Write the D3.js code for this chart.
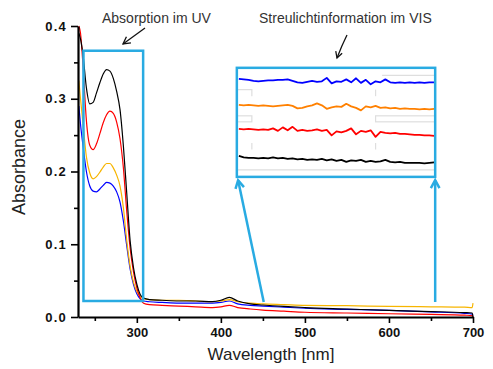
<!DOCTYPE html>
<html><head><meta charset="utf-8">
<script src="https://cdn.jsdelivr.net/npm/d3@7/dist/d3.min.js"></script>
<style>
html,body{margin:0;padding:0;background:#fff;}
svg{display:block;font-family:"Liberation Sans",Arial,sans-serif;}
</style></head>
<body><svg id="c" width="493" height="369"></svg>
<script>
// ---- data ----
const wavelengths = [231,233,236,240,244,248,252,256,260,264,268,272,276,280,284,288,292,296,300,304,308,315,330,350,370,390,400,410,420,435,450,475,500,550,600,650,690,699,700];
const blackSeries = [0.39,0.382,0.36,0.315,0.293,0.295,0.308,0.322,0.334,0.34,0.338,0.328,0.31,0.285,0.235,0.17,0.105,0.068,0.045,0.031,0.026,0.024,0.023,0.022,0.022,0.021,0.023,0.027,0.022,0.018,0.0165,0.0145,0.013,0.011,0.009,0.0075,0.006,0.0055,0.0];
const redSeries = [0.40,0.39,0.345,0.27,0.236,0.23,0.238,0.252,0.267,0.278,0.283,0.28,0.268,0.245,0.205,0.145,0.095,0.062,0.04,0.026,0.019,0.017,0.016,0.015,0.014,0.013,0.014,0.016,0.013,0.011,0.0095,0.008,0.0065,0.0055,0.0045,0.0035,0.0025,0.002,0.0];
const orangeSeries = [0.325,0.3,0.265,0.22,0.198,0.19,0.193,0.199,0.206,0.211,0.211,0.205,0.195,0.18,0.15,0.105,0.07,0.048,0.035,0.028,0.025,0.024,0.023,0.023,0.022,0.021,0.022,0.024,0.021,0.019,0.018,0.017,0.016,0.0155,0.0145,0.014,0.0135,0.013,0.019];
const blueSeries = [0.29,0.265,0.235,0.2,0.18,0.173,0.172,0.176,0.181,0.185,0.184,0.18,0.172,0.158,0.132,0.098,0.066,0.045,0.032,0.025,0.022,0.021,0.02,0.019,0.019,0.019,0.02,0.022,0.018,0.016,0.015,0.0135,0.012,0.0105,0.009,0.007,0.005,0.004,0.002];

const xTicks = [300,400,500,600,700];
const xMinorTicks = [250,350,450,550,650];
const yTicks = [0.0,0.1,0.2,0.3,0.4];
const yMinorTicks = [0.05,0.15,0.25,0.35];

// inset (magnified VIS region, offset traces, arbitrary units)
const insetWavelengths = d3.range(400, 700.1, 7.5);
const insetBlue = [8.99,8.94,8.90,8.81,8.76,8.81,8.85,8.85,8.90,8.90,8.94,8.81,8.67,8.62,8.72,8.81,8.72,8.76,9.08,8.58,8.76,8.72,8.94,8.67,9.04,8.62,8.90,8.49,8.76,8.67,8.94,8.67,8.62,8.67,8.62,8.67,8.62,8.67,8.62,8.67,8.67];
const insetOrange = [6.61,6.56,6.61,6.56,6.51,6.56,6.51,6.47,6.51,6.56,6.61,6.51,6.28,6.33,6.47,6.56,6.74,6.56,6.24,6.38,6.47,6.42,6.70,6.47,6.33,6.10,6.47,6.38,6.51,6.33,6.38,6.28,6.33,6.24,6.28,6.24,6.24,6.19,6.24,6.19,6.24];
const insetRed = [4.40,4.36,4.40,4.36,4.31,4.36,4.31,4.45,4.22,4.54,4.27,4.59,4.22,4.31,4.22,4.27,4.36,4.22,4.31,3.81,4.17,4.08,4.22,4.45,3.90,4.22,4.13,4.27,3.67,4.13,4.04,3.99,4.04,3.94,3.94,3.90,3.85,3.85,3.81,3.81,3.76];
const insetBlack = [1.93,1.79,1.74,1.74,1.70,1.74,1.70,1.79,1.70,1.74,1.65,1.70,1.61,1.65,1.56,1.61,1.56,1.65,1.51,1.61,1.47,1.56,1.38,1.51,1.47,1.56,1.38,1.47,1.38,1.42,1.56,1.38,1.33,1.38,1.28,1.28,1.28,1.28,1.24,1.28,1.33];

// ---- chart ----
const svg = d3.select("#c");
const x = d3.scaleLinear().domain([230, 700]).range([78, 473]);
const y = d3.scaleLinear().domain([0, 0.4]).range([317, 26]);
const cyan = "#29abe2";

svg.append("defs").append("clipPath").attr("id","plot")
  .append("rect").attr("x",x(230)).attr("y",y(0.41)).attr("width",x(700)-x(230)+2).attr("height",y(0)-y(0.41));

const series = [
  {name:"blue", values: blueSeries, color:"#0000ff"},
  {name:"orange", values: orangeSeries, color:"#f7b500"},
  {name:"red", values: redSeries, color:"#ff0000"},
  {name:"black", values: blackSeries, color:"#000000"}
];
const line = d3.line().x(d=>x(d[0])).y(d=>y(d[1])).curve(d3.curveMonotoneX);
const g = svg.append("g").attr("clip-path","url(#plot)");
series.forEach(s=>{
  g.append("path").datum(wavelengths.map((w,i)=>[w,s.values[i]]))
    .attr("d", line).attr("fill","none").attr("stroke", s.color).attr("stroke-width",1.2);
});

// axes
const xAxis = svg.append("g").attr("transform",`translate(0,${y(0)})`)
  .call(d3.axisBottom(x).tickValues(xTicks).tickFormat(d3.format("d")).tickSize(6).tickSizeOuter(0).tickPadding(5));
svg.append("g").attr("transform",`translate(0,${y(0)})`)
  .call(d3.axisBottom(x).tickValues(xMinorTicks).tickFormat("").tickSize(4).tickSizeOuter(0))
  .select(".domain").remove();
const yAxis = svg.append("g").attr("transform",`translate(${x(230)},0)`)
  .call(d3.axisLeft(y).tickValues(yTicks).tickFormat(d3.format(".1f")).tickSize(7).tickSizeOuter(0).tickPadding(4));
svg.append("g").attr("transform",`translate(${x(230)},0)`)
  .call(d3.axisLeft(y).tickValues(yMinorTicks).tickFormat("").tickSize(4).tickSizeOuter(0))
  .select(".domain").remove();
svg.selectAll(".domain").attr("stroke","#000").attr("stroke-width",2.2);
svg.selectAll(".tick line").attr("stroke","#000").attr("stroke-width",1.6);
svg.selectAll(".tick text").attr("fill","#111").style("font-size","13px").style("font-weight","bold")
  .style("font-family","'Liberation Sans',Arial,sans-serif");
yAxis.selectAll(".tick text").style("letter-spacing","1.2px");

// axis titles
svg.append("text").attr("transform",`translate(25,${167}) rotate(-90)`).attr("text-anchor","middle")
  .style("font-size","18px").attr("fill","#222").text("Absorbance");
svg.append("text").attr("x",271).attr("y",360).attr("text-anchor","middle")
  .style("font-size","17px").attr("fill","#222").text("Wavelength [nm]");

// ---- annotations ----
// UV box
svg.append("rect").attr("x",x(236.5)).attr("y",y(0.366)).attr("width",x(307.5)-x(236.5)).attr("height",y(0.022)-y(0.366))
  .attr("fill","none").attr("stroke",cyan).attr("stroke-width",2.5);

// arrows
function arrowHead(x0,y0,x1,y1,size,color,w){
  const a = Math.atan2(y1-y0,x1-x0);
  const p = [[x1-size*Math.cos(a-0.5), y1-size*Math.sin(a-0.5)],[x1,y1],[x1-size*Math.cos(a+0.5), y1-size*Math.sin(a+0.5)]];
  svg.append("path").attr("d", d3.line()(p)).attr("fill","none").attr("stroke",color).attr("stroke-width",w).attr("stroke-linejoin","miter");
}
// cyan connector arrows from VIS region to inset
const insetL = x(419), insetR = x(655), insetT = y(0.3425), insetB = y(0.1926);
[[x(451), y(0.0206), x(420.5), y(0.188)], [x(655), y(0.0206), x(655), y(0.188)]].forEach(a=>{
  svg.append("line").attr("x1",a[0]).attr("y1",a[1]).attr("x2",a[2]).attr("y2",a[3]).attr("stroke",cyan).attr("stroke-width",2.5);
  arrowHead(a[0],a[1],a[2],a[3],9,cyan,2.5);
});

// inset
svg.append("rect").attr("x",insetL).attr("y",insetT).attr("width",insetR-insetL).attr("height",insetB-insetT)
  .attr("fill","#fff").attr("stroke","none");
const ix = d3.scaleLinear().domain([400,700]).range([insetL+2, insetR-1]);
const iy = d3.scaleLinear().domain([0,10]).range([insetB, insetT]);
// faint grid remnants inside inset
const gray = "#dedede";
const gp = svg.append("g").attr("stroke",gray).attr("stroke-width",1.2).attr("fill","none");
gp.append("path").attr("d",`M${ix(620)},${iy(9.3)}H${insetR}`);
gp.append("path").attr("d",`M${insetL},${iy(8.0)}H${ix(420)}V${iy(7.4)}`);
gp.append("path").attr("d",`M${ix(610)},${iy(8.0)}V${iy(7.4)}`);
gp.append("rect").attr("x",insetL).attr("y",iy(5.6)).attr("width",ix(420)-insetL).attr("height",iy(5.05)-iy(5.6));
gp.append("rect").attr("x",ix(610)).attr("y",iy(5.6)).attr("width",insetR-ix(610)).attr("height",iy(5.05)-iy(5.6));
gp.append("path").attr("d",`M${ix(420)},${iy(3.1)}V${iy(2.5)}M${ix(610)},${iy(3.1)}V${iy(2.5)}`);
gp.append("path").attr("d",`M${insetL},${iy(0.65)}H${insetR}`);

const insetSeries = [
  {values: insetBlue, color:"#0000ff"},
  {values: insetOrange, color:"#ff8000"},
  {values: insetRed, color:"#ff0000"},
  {values: insetBlack, color:"#000000"}
];
const iline = d3.line().x(d=>ix(d[0])).y(d=>iy(d[1]));
insetSeries.forEach(s=>{
  svg.append("path").datum(insetWavelengths.map((w,i)=>[w,s.values[i]]))
    .attr("d", iline).attr("fill","none").attr("stroke",s.color).attr("stroke-width",1.8).attr("stroke-linejoin","round");
});
svg.append("rect").attr("x",insetL).attr("y",insetT).attr("width",insetR-insetL).attr("height",insetB-insetT)
  .attr("fill","none").attr("stroke",cyan).attr("stroke-width",2.5);

// text labels + black arrows
svg.append("text").attr("x",102).attr("y",23).style("font-size","14px").attr("fill","#333").text("Absorption im UV");
svg.append("text").attr("x",259).attr("y",23).style("font-size","14px").attr("fill","#333").text("Streulichtinformation im VIS");
svg.append("line").attr("x1",145).attr("y1",28).attr("x2",123).attr("y2",44).attr("stroke","#111").attr("stroke-width",1.3);
arrowHead(145,28,123,44,8,"#111",1.3);
svg.append("path").attr("d","M347,35 Q342,45 337,58").attr("fill","none").attr("stroke","#111").attr("stroke-width",1.3);
arrowHead(339,52,337,58,7,"#111",1.3);
</script>
</body></html>
